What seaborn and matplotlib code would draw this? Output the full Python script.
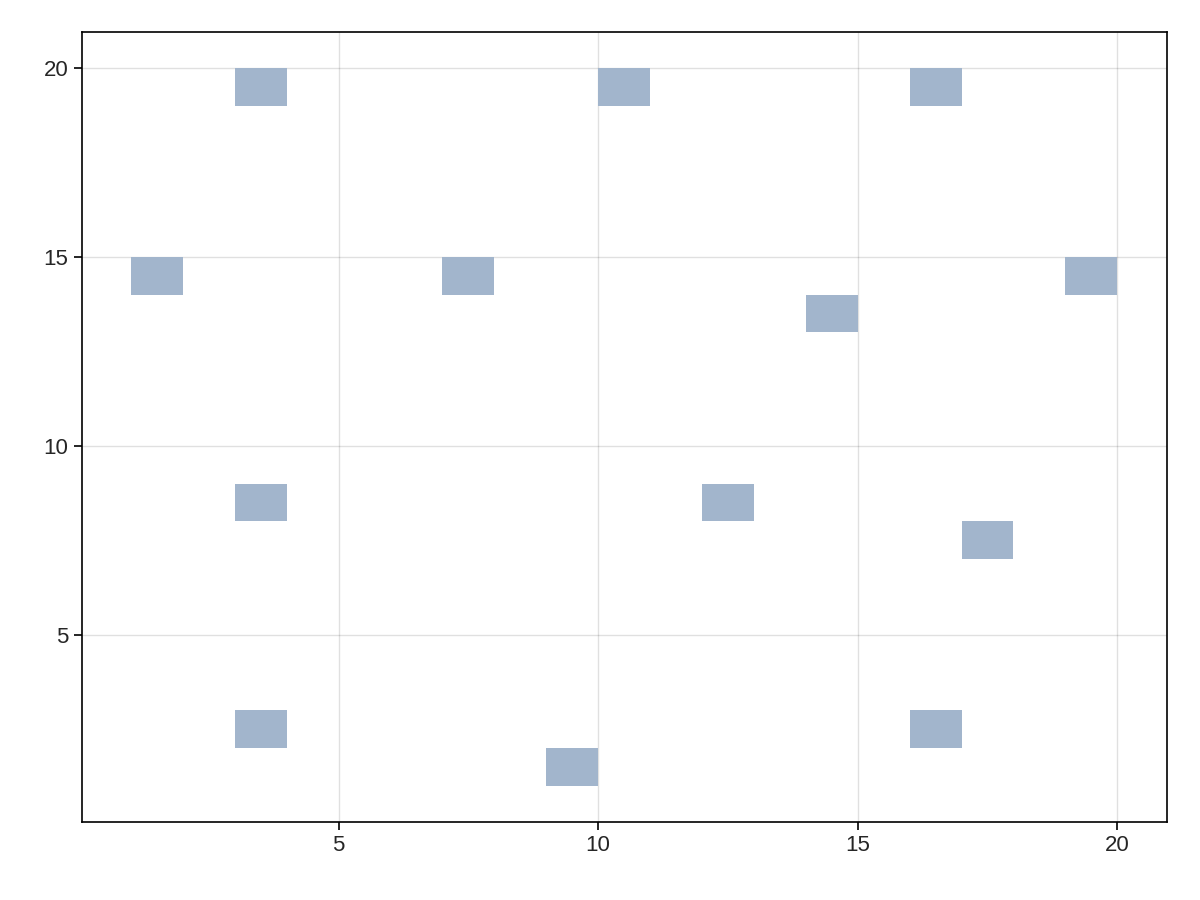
import matplotlib
matplotlib.use("Agg")
import matplotlib.pyplot as plt
import seaborn as sns

xs = [3, 10, 16, 1, 7, 19, 14, 3, 12, 17, 3, 16, 9]
ys = [19, 19, 19, 14, 14, 14, 13, 8, 8, 7, 2, 2, 1]

sns.set_style("white")
plt.rcParams['font.family'] = ['Liberation Sans', 'DejaVu Sans']
fig = plt.figure(figsize=(12, 9), dpi=100)
ax = fig.add_axes([0.068, 0.0867, 0.9042, 0.8778])
ax.bar(xs, [1]*len(xs), bottom=ys, width=1, align='edge', color='#a2b5cc', linewidth=0, zorder=2)
ax.set_xlim(0.05, 20.95)
ax.set_ylim(0.05, 20.95)
ax.set_xticks([5, 10, 15, 20])
ax.set_yticks([5, 10, 15, 20])
ax.grid(True, color='#000000', alpha=0.12, linewidth=1, zorder=0)
ax.set_axisbelow(True)
for s in ax.spines.values():
    s.set_color('black'); s.set_linewidth(1.2)
ax.tick_params(labelsize=16, length=6, width=1.2, color='black', left=True, bottom=True)
fig.savefig("out.png", dpi=100)
